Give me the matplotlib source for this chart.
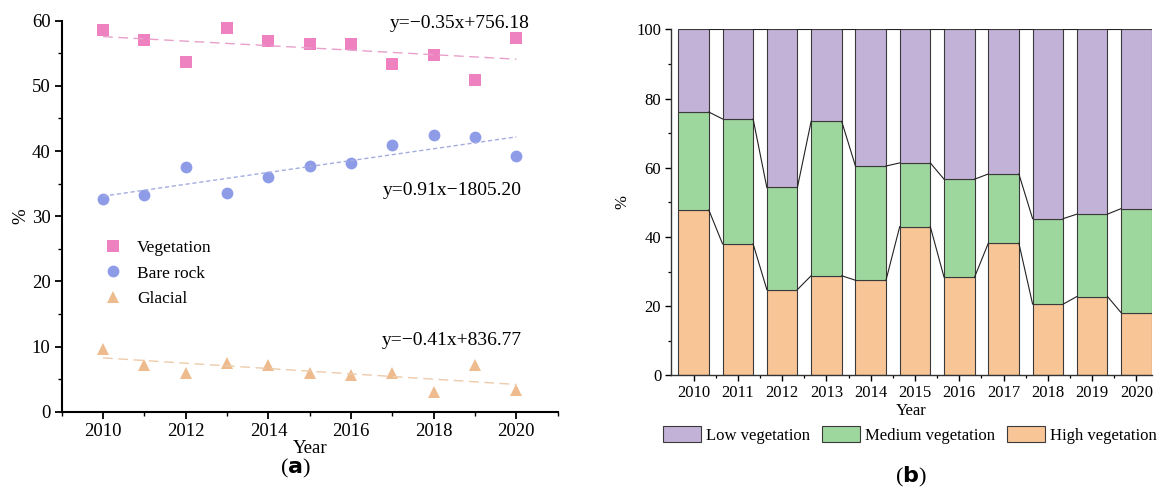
import matplotlib.pyplot as plt
import numpy as np
from matplotlib.patches import Patch
from matplotlib.ticker import MultipleLocator

plt.rcParams['font.family'] = ['Liberation Serif', 'DejaVu Serif']
plt.rcParams['mathtext.fontset'] = 'custom'
plt.rcParams['mathtext.bf'] = 'DejaVu Sans:bold'

# (a) land-cover shares per year
years = [2010, 2011, 2012, 2013, 2014, 2015, 2016, 2017, 2018, 2019, 2020]
vegetation = [58.5, 57.0, 53.6, 58.9, 56.9, 56.4, 56.4, 53.4, 54.7, 50.9, 57.4]
bare_rock = [32.7, 33.3, 37.6, 33.6, 36.0, 37.7, 38.1, 40.9, 42.5, 42.2, 39.3]
glacial = [9.6, 7.2, 5.9, 7.5, 7.1, 6.0, 5.7, 5.9, 3.1, 7.1, 3.3]
equations = ['y=\u22120.35x+756.18', 'y=0.91x\u22121805.20', 'y=\u22120.41x+836.77']

# (b) vegetation cover classes per year
year_labels = ['2010', '2011', '2012', '2013', '2014', '2015',
               '2016', '2017', '2018', '2019', '2020']
high_veg = [47.8, 38.0, 24.8, 28.8, 27.5, 43.0, 28.4, 38.2, 20.6, 22.8, 18.1]
high_med_top = [76.1, 74.1, 54.3, 73.4, 60.5, 61.4, 56.7, 58.2, 45.3, 46.6, 48.2]

fig = plt.figure(figsize=(11.58, 4.91), dpi=100)

# ---------- panel (a) ----------
ax1 = fig.add_axes([0.0533, 0.1615, 0.4283, 0.7963])
x = np.array(years)
series = [
    (vegetation, 's', '#EE82C0', '#E8A0CB', (0, (7, 4)), 'Vegetation'),
    (bare_rock, 'o', '#8E9CE8', '#A3ADDF', (0, (3, 2)), 'Bare rock'),
    (glacial, '^', '#EEBB8E', '#EDCBAB', (0, (7, 4)), 'Glacial'),
]
for vals, mk, col, lcol, ls, lab in series:
    ax1.plot(x, vals, linestyle='none', marker=mk, markersize=8.5,
             color=col, markeredgewidth=0, label=lab)
    k, b = np.polyfit(x, vals, 1)
    ax1.plot(x, k * x + b, color=lcol, linestyle=ls, linewidth=1.0)

ax1.text(2020.32, 59.5, equations[0], ha='right', va='center', fontsize=14)
ax1.text(2020.14, 34.0, equations[1], ha='right', va='center', fontsize=14)
ax1.text(2020.14, 11.0, equations[2], ha='right', va='center', fontsize=14)

ax1.set_xlim(2009, 2021)
ax1.set_ylim(0, 60)
ax1.xaxis.set_major_locator(MultipleLocator(2))
ax1.xaxis.set_minor_locator(MultipleLocator(1))
ax1.yaxis.set_major_locator(MultipleLocator(10))
ax1.yaxis.set_minor_locator(MultipleLocator(5))
ax1.spines['top'].set_visible(False)
ax1.spines['right'].set_visible(False)
for s in ('left', 'bottom'):
    ax1.spines[s].set_linewidth(1.5)
ax1.tick_params(which='major', direction='out', length=5, width=1.3, labelsize=13.5, pad=3)
ax1.tick_params(which='minor', direction='out', length=3, width=1.0)
ax1.set_xlabel('Year', fontsize=13.5, labelpad=0)
ax1.set_ylabel('%', fontsize=13.5, labelpad=2)
ax1.legend(loc='upper left', bbox_to_anchor=(0.085, 0.44), frameon=False,
           fontsize=12.5, handlelength=1.0, handletextpad=0.9, labelspacing=0.55,
           borderpad=0, borderaxespad=0)

# ---------- panel (b) ----------
ax2 = fig.add_axes([0.5794, 0.2354, 0.4154, 0.7049])
pos = np.arange(len(year_labels))
high = np.array(high_veg)
top_mid = np.array(high_med_top)
medium = top_mid - high
low = 100 - top_mid
w = 0.69
c_low, c_med, c_high = '#C2B2D7', '#9ED79E', '#F8C597'
edge = '#3A3A3A'
ax2.bar(pos, high, w, color=c_high, edgecolor=edge, linewidth=0.8, zorder=2)
ax2.bar(pos, medium, w, bottom=high, color=c_med, edgecolor=edge, linewidth=0.8, zorder=2)
ax2.bar(pos, low, w, bottom=top_mid, color=c_low, edgecolor=edge, linewidth=0.8, zorder=2)

# connect lines between neighbouring bars at each stack boundary
for level in (high, top_mid, np.full(len(pos), 100.0)):
    for i in range(len(pos) - 1):
        ax2.plot([pos[i] + w / 2, pos[i + 1] - w / 2], [level[i], level[i + 1]],
                 color='#222222', linewidth=0.8, zorder=3)

ax2.set_xlim(-0.51, 10.35)
ax2.set_ylim(0, 100)
ax2.set_xticks(pos)
ax2.set_xticklabels(year_labels)
ax2.set_xticks(pos[:-1] + 0.5, minor=True)
ax2.yaxis.set_major_locator(MultipleLocator(20))
ax2.yaxis.set_minor_locator(MultipleLocator(10))
ax2.spines['top'].set_visible(False)
ax2.spines['right'].set_visible(False)
for s in ('left', 'bottom'):
    ax2.spines[s].set_linewidth(1.0)
    ax2.spines[s].set_color('#333333')
ax2.tick_params(which='major', direction='out', length=4, width=1.0, labelsize=12, pad=3)
ax2.tick_params(which='minor', direction='out', length=2.5, width=0.9)
ax2.set_xlabel('Year', fontsize=12, labelpad=1)
ax2.set_ylabel('%', fontsize=12, labelpad=4)

handles = [Patch(facecolor=c_low, edgecolor=edge, linewidth=0.8, label='Low vegetation'),
           Patch(facecolor=c_med, edgecolor=edge, linewidth=0.8, label='Medium vegetation'),
           Patch(facecolor=c_high, edgecolor=edge, linewidth=0.8, label='High vegetation')]
fig.legend(handles=handles, loc='center', bbox_to_anchor=(0.786, 0.114), ncol=3,
           frameon=False, fontsize=12, handlelength=2.3, handleheight=1.1,
           handletextpad=0.3, columnspacing=0.7, borderpad=0)

# panel captions
fig.text(0.255, 0.045, r'($\mathbf{a}$)', ha='center', va='center', fontsize=16)
fig.text(0.787, 0.029, r'($\mathbf{b}$)', ha='center', va='center', fontsize=16)

fig.savefig('out.png', dpi=100)
